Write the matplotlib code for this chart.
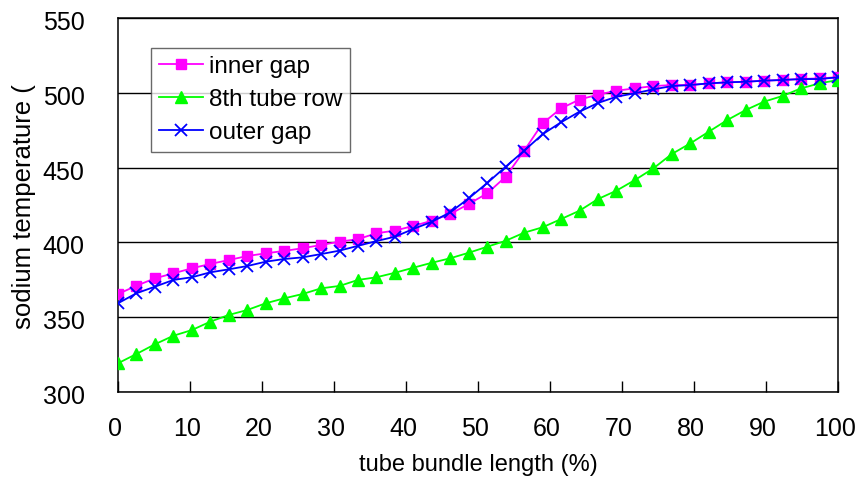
import matplotlib
matplotlib.use("Agg")
import matplotlib.pyplot as plt
import matplotlib.transforms as mtransforms

plt.rcParams['font.family'] = ['Liberation Sans', 'DejaVu Sans']

# tube bundle length (%)
length = [0, 2.56, 5.13, 7.69, 10.26, 12.82, 15.38, 17.95, 20.51, 23.08,
          25.64, 28.21, 30.77, 33.33, 35.90, 38.46, 41.03, 43.59, 46.15, 48.72,
          51.28, 53.85, 56.41, 58.97, 61.54, 64.10, 66.67, 69.23, 71.79, 74.36,
          76.92, 79.49, 82.05, 84.62, 87.18, 89.74, 92.31, 94.87, 97.44, 100]

inner_gap = [365.5, 371, 376, 379.3, 382.7, 385.6, 388.2, 390.9, 392.7, 394.3,
             396.1, 398.3, 400.5, 402.2, 406.1, 407.9, 411, 414.5, 419, 425.7,
             432.8, 443.9, 461.3, 479.6, 489.6, 495.5, 498.8, 501.4, 503, 504.5,
             505.2, 505.2, 506.3, 507, 507.4, 508.1, 508.6, 509.2, 509.7, 510.4]

tube_row8 = [319.2, 325.4, 331.9, 337.6, 341.4, 347, 351.5, 354.8, 359.3, 362.6,
             365.5, 369.3, 370.9, 374.9, 376.7, 379.7, 383.1, 386.4, 389.4, 393.1,
             397.1, 401.1, 406.5, 410.1, 415.6, 421.2, 429, 434.6, 441.7, 449.5,
             459.1, 466.2, 474, 481.8, 488.5, 494.1, 497.9, 503, 506.3, 508.6]

outer_gap = [359.3, 366, 370.4, 374.9, 376.7, 380, 382, 384.2, 387.1, 388.9,
             390, 392.2, 394.5, 397.7, 400.9, 403.8, 409, 413.8, 420.1, 429.5,
             439.7, 450.6, 461.3, 472.3, 480.3, 487.4, 493.2, 497.4, 499.7, 502.3,
             504.5, 505.2, 506.3, 507, 507.4, 508.1, 508.6, 509.2, 509.2, 510.4]

xticks = list(range(0, 101, 10))
yticks = list(range(300, 551, 50))

fig = plt.figure(figsize=(8.61, 4.83), dpi=100)
ax = fig.add_axes([0.137, 0.1884, 0.8363, 0.7743])

ax.plot(length, inner_gap, color='#FF00FF', lw=1.3, marker='s', ms=7,
        mec='#FF00FF', mfc='#FF00FF', label='inner gap', zorder=3)
ax.plot(length, tube_row8, color='#00FF00', lw=1.3, marker='^', ms=8,
        mec='#00FF00', mfc='#00FF00', label='8th tube row', zorder=3)
ax.plot(length, outer_gap, color='#0000FF', lw=1.3, marker='x', ms=8.5,
        mew=1.3, label='outer gap', zorder=4)

ax.set_xlim(0, 100)
ax.set_ylim(300, 550)
ax.set_xticks(xticks)
ax.set_yticks(yticks)
ax.yaxis.grid(True, color='black', lw=1.0)
ax.set_axisbelow(True)
for s in ax.spines.values():
    s.set_linewidth(1.1)
    s.set_color('black')

ax.tick_params(axis='x', direction='in', length=8, width=1, pad=18, labelsize=18)
ax.tick_params(axis='y', direction='in', length=0, pad=24, labelsize=18)

# small nudges so the tick labels sit where the original ones do
xoff = mtransforms.ScaledTranslation(-0.03, 0, fig.dpi_scale_trans)
yoff = mtransforms.ScaledTranslation(0, -0.025, fig.dpi_scale_trans)
for lab in ax.get_xticklabels():
    lab.set_transform(lab.get_transform() + xoff)
for lab in ax.get_yticklabels():
    lab.set_transform(lab.get_transform() + yoff)

ax.set_xlabel('tube bundle length (%)', fontsize=17, labelpad=9)
ax.set_ylabel('sodium temperature (', fontsize=18.5)
ax.yaxis.set_label_coords(-0.114, 0.495)

leg = ax.legend(loc='upper left', bbox_to_anchor=(0.0458, 0.92), borderaxespad=0,
                fontsize=17.5, frameon=True, fancybox=False, handlelength=1.8,
                handletextpad=0.25, labelspacing=0.45, borderpad=0.33)
leg.get_frame().set_edgecolor('#444444')
leg.get_frame().set_linewidth(1.0)

fig.savefig('out.png', dpi=100)
